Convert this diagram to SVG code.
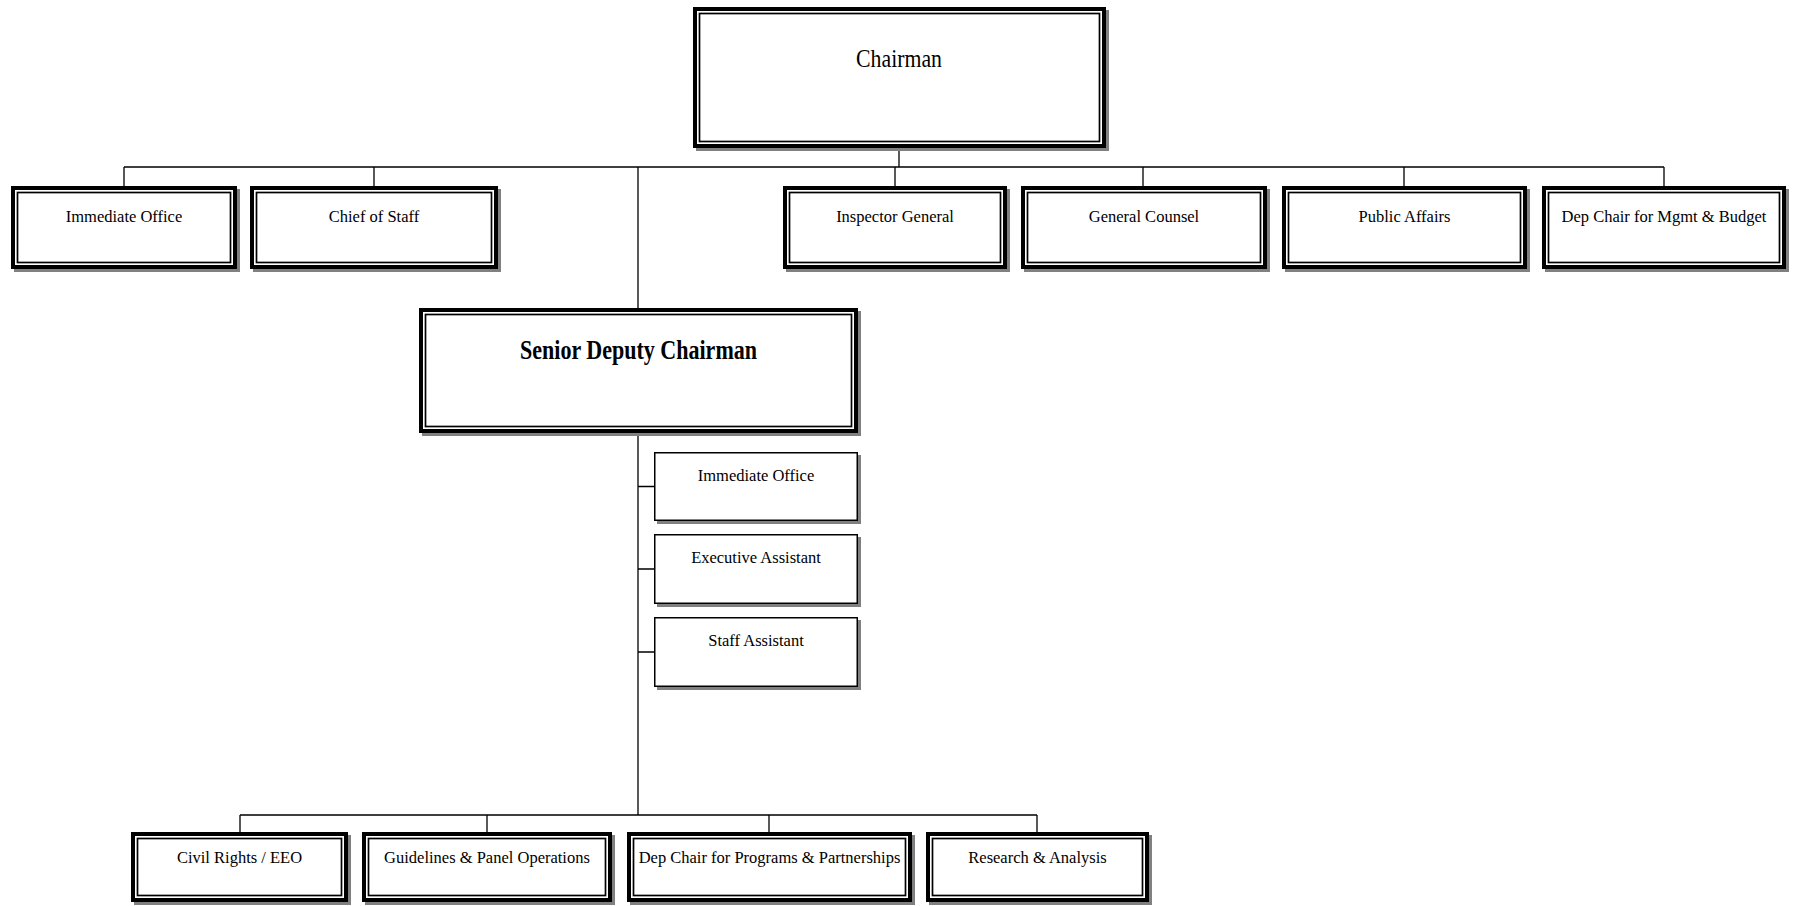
<svg xmlns="http://www.w3.org/2000/svg" width="1794" height="906" viewBox="0 0 1794 906">
<style>
.sh{fill:#808080;stroke:none}
.ob{fill:#fff;stroke:#000;stroke-width:4}
.ib{fill:none;stroke:#000;stroke-width:1.7}
.sb{fill:#fff;stroke:#000;stroke-width:1.5}
.t{font-family:"Liberation Serif","Times New Roman",serif;font-size:16.5px;fill:#000;text-anchor:middle}
.big{font-size:25px}
.bold{font-weight:bold;font-size:27px}
.c{stroke:#000;stroke-width:1.3;fill:none}
</style>
<rect width="1794" height="906" fill="#fff"/>
<g id="connectors">
<path class="c" d="M899,148V167M124,167H1664M124,167V186M374,167V186M895,167V186M1143,167V186M1404,167V186M1664,167V186M638,167V308M638,432V815M638,486.5H654M638,569H654M638,652H654M240,815H1037M240,815V832M487,815V832M769,815V832M1037,815V832"/>
</g>
<g id="chairman">
<rect class="sh" x="696" y="10" width="413" height="141"/>
<rect class="ob" x="695" y="9" width="409" height="137"/>
<rect class="ib" x="699.5" y="13.5" width="400" height="128"/>
<text class="t big" x="899" y="67" textLength="86" lengthAdjust="spacingAndGlyphs">Chairman</text>
</g>
<g id="immediate-office">
<rect class="sh" x="14" y="189" width="226" height="83"/>
<rect class="ob" x="13" y="188" width="222" height="79"/>
<rect class="ib" x="17.5" y="192.5" width="213" height="70"/>
<text class="t" x="124" y="222">Immediate Office</text>
</g>
<g id="chief-of-staff">
<rect class="sh" x="253" y="189" width="248" height="83"/>
<rect class="ob" x="252" y="188" width="244" height="79"/>
<rect class="ib" x="256.5" y="192.5" width="235" height="70"/>
<text class="t" x="374" y="222">Chief of Staff</text>
</g>
<g id="inspector-general">
<rect class="sh" x="786" y="189" width="224" height="83"/>
<rect class="ob" x="785" y="188" width="220" height="79"/>
<rect class="ib" x="789.5" y="192.5" width="211" height="70"/>
<text class="t" x="895" y="222">Inspector General</text>
</g>
<g id="general-counsel">
<rect class="sh" x="1024" y="189" width="246" height="83"/>
<rect class="ob" x="1023" y="188" width="242" height="79"/>
<rect class="ib" x="1027.5" y="192.5" width="233" height="70"/>
<text class="t" x="1144" y="222">General Counsel</text>
</g>
<g id="public-affairs">
<rect class="sh" x="1285" y="189" width="245" height="83"/>
<rect class="ob" x="1284" y="188" width="241" height="79"/>
<rect class="ib" x="1288.5" y="192.5" width="232" height="70"/>
<text class="t" x="1404.5" y="222">Public Affairs</text>
</g>
<g id="dep-chair-mgmt">
<rect class="sh" x="1545" y="189" width="244" height="83"/>
<rect class="ob" x="1544" y="188" width="240" height="79"/>
<rect class="ib" x="1548.5" y="192.5" width="231" height="70"/>
<text class="t" x="1664" y="222">Dep Chair for Mgmt &amp; Budget</text>
</g>
<g id="senior-deputy-chairman">
<rect class="sh" x="422" y="311" width="439" height="125"/>
<rect class="ob" x="421" y="310" width="435" height="121"/>
<rect class="ib" x="425.5" y="314.5" width="426" height="112"/>
<text class="t bold" x="638.5" y="359" textLength="237" lengthAdjust="spacingAndGlyphs">Senior Deputy Chairman</text>
</g>
<g id="sdc-immediate-office">
<rect class="sh" x="657" y="455" width="204" height="69"/>
<rect class="sb" x="654.75" y="452.75" width="202.5" height="67.5"/>
<text class="t" x="756" y="481">Immediate Office</text>
</g>
<g id="executive-assistant">
<rect class="sh" x="657" y="537" width="204" height="70"/>
<rect class="sb" x="654.75" y="534.75" width="202.5" height="68.5"/>
<text class="t" x="756" y="563">Executive Assistant</text>
</g>
<g id="staff-assistant">
<rect class="sh" x="657" y="620" width="204" height="70"/>
<rect class="sb" x="654.75" y="617.75" width="202.5" height="68.5"/>
<text class="t" x="756" y="646">Staff Assistant</text>
</g>
<g id="civil-rights">
<rect class="sh" x="134" y="835" width="217" height="70"/>
<rect class="ob" x="133" y="834" width="213" height="66"/>
<rect class="ib" x="137.5" y="838.5" width="204" height="57"/>
<text class="t" x="239.5" y="863">Civil Rights / EEO</text>
</g>
<g id="guidelines">
<rect class="sh" x="365" y="835" width="250" height="70"/>
<rect class="ob" x="364" y="834" width="246" height="66"/>
<rect class="ib" x="368.5" y="838.5" width="237" height="57"/>
<text class="t" x="487" y="863">Guidelines &amp; Panel Operations</text>
</g>
<g id="dep-chair-programs">
<rect class="sh" x="630" y="835" width="285" height="70"/>
<rect class="ob" x="629" y="834" width="281" height="66"/>
<rect class="ib" x="633.5" y="838.5" width="272" height="57"/>
<text class="t" x="769.5" y="863">Dep Chair for Programs &amp; Partnerships</text>
</g>
<g id="research-analysis">
<rect class="sh" x="929" y="835" width="223" height="70"/>
<rect class="ob" x="928" y="834" width="219" height="66"/>
<rect class="ib" x="932.5" y="838.5" width="210" height="57"/>
<text class="t" x="1037.5" y="863">Research &amp; Analysis</text>
</g>
</svg>
